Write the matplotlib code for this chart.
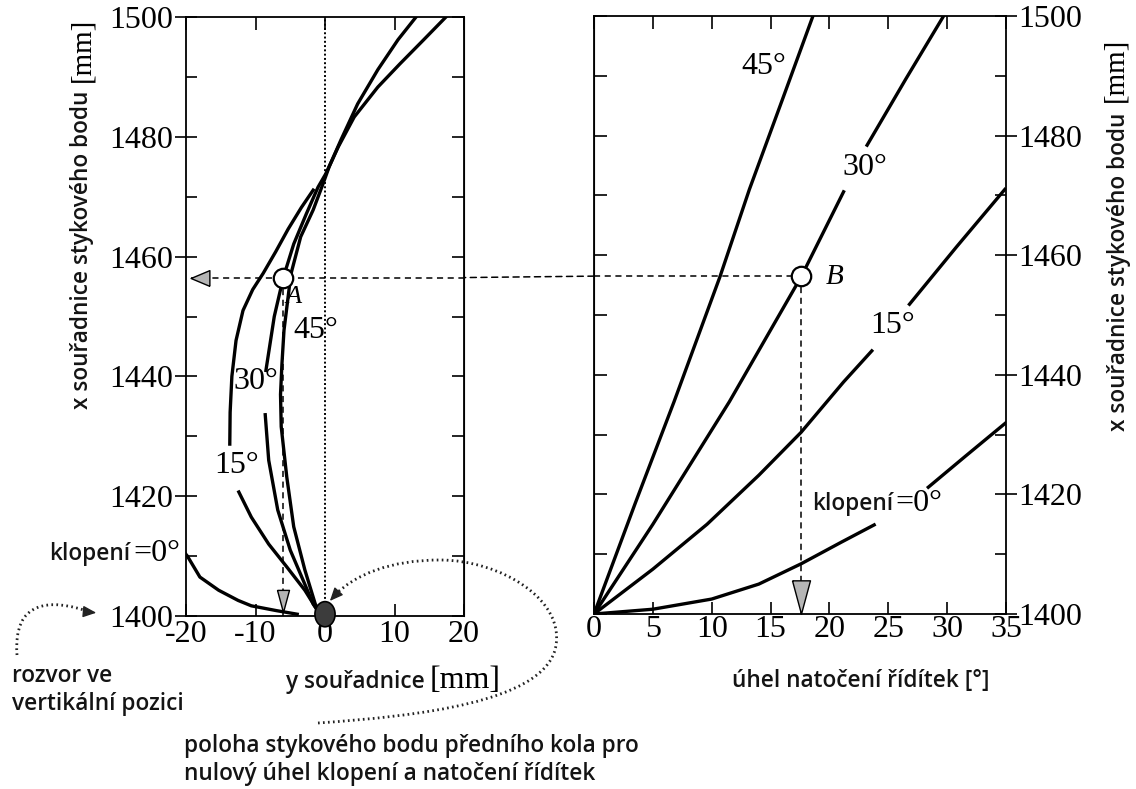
import numpy as np
import matplotlib
matplotlib.use('Agg')
from matplotlib import pyplot as plt
from matplotlib.patches import Ellipse, ConnectionPatch
from matplotlib.path import Path
from matplotlib.patches import PathPatch
import matplotlib.transforms as mtrans

W, H = 1136, 789
SERIF = ['Liberation Serif', 'DejaVu Serif']
SANS = ['Open Sans', 'DejaVu Sans']
TXT = '#141414'

# ---- data: right panel, steering angle [deg] vs x contact [mm]
r45_a = [0, 3.5, 6.8, 10.7, 13.2, 16.0, 18.6]
r45_x = [1400, 1418.5, 1435.5, 1456.4, 1471, 1486, 1500]
r30_a_lo = [0, 5, 11.5, 17.6, 21.2]
r30_x_lo = [1400, 1415, 1435.5, 1456.4, 1470.6]
r30_a_hi = [23.2, 26.5, 29.7]
r30_x_hi = [1478.4, 1489.5, 1500]
r15_a_lo = [0, 5, 9.6, 14, 17.6, 21.2, 23.6]
r15_x_lo = [1400, 1407.5, 1415, 1423.2, 1430.4, 1438.8, 1444]
r15_a_hi = [26.8, 30.8, 34.9]
r15_x_hi = [1451.8, 1461.4, 1471]
r0_a_lo = [0, 5, 10, 14, 17.6, 21, 23.8]
r0_x_lo = [1400, 1400.8, 1402.5, 1405, 1408.4, 1412, 1414.9]
r0_a_hi = [28.4, 31.5, 35]
r0_x_hi = [1421.2, 1426.3, 1432]

# ---- data: left panel, y coordinate [mm] vs x contact [mm]
l0_y = [-20.5, -19.8, -18, -15.3, -12.5, -10.6, -7, -4]
l0_x = [1411, 1410, 1406.5, 1404.3, 1402.6, 1401.7, 1400.9, 1400.3]
l15_y_lo = [-0.5, -1.4, -2.9, -5.5, -8.1, -10.6, -12.4]
l15_x_lo = [1400, 1401.5, 1404.3, 1408.2, 1412, 1416.5, 1420.7]
l15_y_hi = [-13.7, -13.65, -13.4, -12.8, -11.8, -10.4, -8.9, -7.1, -5.3, -3.4, -1.7]
l15_x_hi = [1428.7, 1434, 1440, 1446, 1451, 1454.5, 1457.2, 1460.8, 1464.6, 1468.2, 1471.1]
l30_y_lo = [-0.5, -1.7, -2.9, -5.0, -6.8, -8.1, -8.6]
l30_x_lo = [1400, 1402, 1405.3, 1411, 1417.7, 1426, 1433.6]
l30_y_hi = [-8.5, -7.3, -6.0, -4.5, -2.7, -1.0, 0.1, 1.9, 4.2, 7.6, 10.8, 14.2, 17.4]
l30_x_hi = [1441, 1450, 1456.5, 1462.1, 1467.1, 1471.6, 1473.8, 1478.3, 1483.3, 1488.3, 1492.2, 1496.2, 1500]
l45_y = [-0.5, -1.4, -2.9, -4.5, -5.5, -6.3, -6.4, -6.2, -5.9, -4.9, -3.5, -1.7, -0.3, 0.6, 2.3, 4.7, 7.6, 10.5, 13.1]
l45_x = [1400, 1402, 1407.7, 1414.9, 1423.2, 1431.6, 1437, 1442, 1447.7, 1457.1, 1463.3, 1467.8, 1472.1, 1475, 1479.5, 1485.5, 1491.2, 1496.2, 1500]

# points A and B
A_y, A_x = -6.0, 1456.5
B_a, B_x = 17.6, 1456.5

left_xticks = [-20, -10, 0, 10, 20]
right_xticks = [0, 5, 10, 15, 20, 25, 30, 35]
yticks_major = [1400, 1420, 1440, 1460, 1480, 1500]
yticks_minor = [1410, 1430, 1450, 1470, 1490]
yticks_all = list(range(1400, 1501, 10))

fig = plt.figure(figsize=(W / 100, H / 100), dpi=100)


def box(x0, y0, x1, y1):
    return [x0 / W, 1 - y1 / H, (x1 - x0) / W, (y1 - y0) / H]


ax1 = fig.add_axes(box(186, 17, 464, 616))
ax2 = fig.add_axes(box(594, 16, 1006, 614))

LW = 2.4
DASH = dict(color='k', ls=(0, (4, 3)), lw=1.1)
for ax in (ax1, ax2):
    for s in ax.spines.values():
        s.set_linewidth(1.3)
    ax.set_ylim(1400, 1500)

# ---------------- left panel
ax1.set_xlim(-20, 20)
ax1.axvline(0, color='k', ls=(0, (1, 1.2)), lw=1.4, zorder=1)
for yy, xx in [(l0_y, l0_x), (l15_y_lo, l15_x_lo), (l15_y_hi, l15_x_hi),
               (l30_y_lo, l30_x_lo), (l30_y_hi, l30_x_hi), (l45_y, l45_x)]:
    ax1.plot(yy, xx, color='k', lw=LW, solid_joinstyle='round')

ax1.set_xticks(left_xticks)
ax1.set_xticklabels(['-20', '-10', '0', '10', '20'])
ax1.set_yticks(yticks_major)
ax1.set_yticks(yticks_minor, minor=True)
ax1.tick_params(axis='x', direction='in', length=9, width=1.2, top=True, bottom=True, pad=3)
ax1.tick_params(axis='y', which='major', direction='inout', length=16, width=1.2, right=False, pad=1)
ax1.tick_params(axis='y', which='minor', direction='in', length=8, width=1.2, right=False)
sec1 = ax1.secondary_yaxis('right')
sec1.set_yticks(yticks_all)
sec1.set_yticklabels([])
sec1.tick_params(direction='in', length=9, width=1.2)

# A point + dashed lines
ax1.plot([A_y, A_y], [1400, A_x], zorder=2, **DASH)
ax1.plot([-19.3, 20], [A_x, A_x], zorder=2, **DASH)
ax1.plot([A_y], [A_x], 'o', ms=14, mfc='white', mec='k', mew=1.6, zorder=5)
ax1.add_patch(Ellipse((0, 1400.3), 2.9, 4.2, fc='#3c3c3c', ec='k', lw=1.2,
                      clip_on=False, zorder=6))

# ---------------- right panel
ax2.set_xlim(0, 35)
for aa, xx in [(r45_a, r45_x), (r30_a_lo, r30_x_lo), (r30_a_hi, r30_x_hi),
               (r15_a_lo, r15_x_lo), (r15_a_hi, r15_x_hi),
               (r0_a_lo, r0_x_lo), (r0_a_hi, r0_x_hi)]:
    ax2.plot(aa, xx, color='k', lw=LW, solid_joinstyle='round')

ax2.set_xticks(right_xticks)
ax2.yaxis.tick_right()
ax2.set_yticks(yticks_major)
ax2.set_yticks(yticks_minor, minor=True)
ax2.tick_params(axis='x', direction='in', length=9, width=1.2, top=True, bottom=True, pad=1)
ax2.tick_params(axis='y', which='major', direction='inout', length=16, width=1.2,
                left=False, right=True, pad=1)
ax2.tick_params(axis='y', which='minor', direction='in', length=8, width=1.2,
                left=False, right=True)
sec2 = ax2.secondary_yaxis('left')
sec2.set_yticks(yticks_all)
sec2.set_yticklabels([])
sec2.tick_params(direction='in', length=9, width=1.2)

ax2.plot([B_a, B_a], [1400, B_x], zorder=2, **DASH)
ax2.plot([0, B_a], [B_x, B_x], zorder=2, **DASH)
ax2.plot([B_a], [B_x], 'o', ms=14, mfc='white', mec='k', mew=1.6, zorder=5)

for ax in (ax1, ax2, sec1, sec2):
    for lab in ax.get_xticklabels() + ax.get_yticklabels():
        lab.set_family(SERIF)
        lab.set_fontsize(23)

# dashed line bridging the gap between the two panels
con = ConnectionPatch(xyA=(0, B_x), coordsA=ax2.transData,
                      xyB=(20, A_x), coordsB=ax1.transData, zorder=3, **DASH)
fig.add_artist(con)

# gray arrowheads
tri_down = [(-0.27, 0.5), (0.27, 0.5), (0, -0.5), (-0.27, 0.5)]
tri_left = [(0.5, -0.42), (0.5, 0.42), (-0.5, 0), (0.5, -0.42)]


def head(ax, x, y, verts, size, dx, dy):
    off = mtrans.ScaledTranslation(dx * size / 72, dy * size / 72, fig.dpi_scale_trans)
    ax.plot([x], [y], marker=verts, ms=size, mfc='#b5b5b5', mec='k', mew=1.0,
            transform=ax.transData + off, clip_on=False, zorder=7)


head(ax2, B_a, 1400, tri_down, 24, 0, 0.5)
head(ax1, A_y, 1400.6, tri_down, 16, 0, 0.5)
head(ax1, -19.3, A_x, tri_left, 13.5, 0.5, 0)

# curve labels
lab_kw = dict(family=SERIF, fontsize=23, ha='center', va='center', color='k')
ax1.text(-1.3, 1447.7, '45°', **lab_kw)
ax1.text(-9.9, 1439.1, '30°', **lab_kw)
ax1.text(-12.7, 1425.2, '15°', **lab_kw)
ax1.text(-4.6, 1453.3, 'A', family=SERIF, style='italic', fontsize=19, ha='center', va='center')
ax2.text(14.4, 1491.5, '45°', **lab_kw)
ax2.text(23.0, 1474.7, '30°', **lab_kw)
ax2.text(25.4, 1448.3, '15°', **lab_kw)
ax2.text(20.4, 1456.4, 'B', family=SERIF, style='italic', fontsize=21, ha='center', va='center')

sans_kw = dict(family=SANS, fontsize=16.3, fontweight='semibold', color=TXT)
ax1.text(-28.0, 1410.4, 'klopení', ha='right', va='center', clip_on=False, **sans_kw)
ax1.text(-27.6, 1410.4, '=0°', ha='left', va='center', family=SERIF, fontsize=23, clip_on=False)
ax2.text(25.4, 1418.4, 'klopení', ha='right', va='center', **sans_kw)
ax2.text(25.6, 1418.4, '=0°', ha='left', va='center', family=SERIF, fontsize=23)

# ---------------- overlay for annotations (pixel coords)
ov = fig.add_axes([0, 0, 1, 1])
ov.set_xlim(0, W)
ov.set_ylim(H, 0)
ov.axis('off')
ov.patch.set_alpha(0)

ov.text(82, 250, 'x souřadnice stykového bodu', rotation=90, ha='center', va='center', **sans_kw)
ov.text(82, 50, '[mm]', rotation=90, ha='center', va='center', family=SERIF, fontsize=21)
ov.text(1119, 272, 'x souřadnice stykového bodu', rotation=90, ha='center', va='center', **sans_kw)
ov.text(1115, 70, '[mm]', rotation=90, ha='center', va='center', family=SERIF, fontsize=21)
ov.text(355, 682, 'y souřadnice', ha='center', va='center', **sans_kw)
ov.text(465, 680, '[mm]', ha='center', va='center', family=SERIF, fontsize=23)
ov.text(861, 681, 'úhel natočení řídítek [°]', ha='center', va='center', **sans_kw)
ov.text(12, 690, 'rozvor ve\nvertikální pozici', ha='left', va='center', linespacing=1.25, **sans_kw)
ov.text(184, 760, 'poloha stykového bodu předního kola pro\nnulový úhel klopení a natočení řídítek',
        ha='left', va='center', linespacing=1.25, **sans_kw)

dot = dict(color='#222222', lw=2.0, ls=(0, (0.6, 1.2)), fill=False)
p1 = Path([(17, 655), (13, 600), (50, 598), (90, 612)],
          [Path.MOVETO, Path.CURVE4, Path.CURVE4, Path.CURVE4])
ov.add_patch(PathPatch(p1, **dot))
ov.annotate('', xy=(99, 613), xytext=(88, 612),
            arrowprops=dict(arrowstyle='-|>,head_length=0.8,head_width=0.35', color='#222222', lw=1))
p2 = Path([(318, 723), (420, 716), (540, 702), (555, 650),
           (568, 600), (500, 560), (440, 560),
           (390, 560), (355, 575), (336, 594)],
          [Path.MOVETO, Path.CURVE4, Path.CURVE4, Path.CURVE4,
           Path.CURVE4, Path.CURVE4, Path.CURVE4,
           Path.CURVE4, Path.CURVE4, Path.CURVE4])
ov.add_patch(PathPatch(p2, **dot))
ov.annotate('', xy=(328, 603), xytext=(338, 592),
            arrowprops=dict(arrowstyle='-|>,head_length=0.8,head_width=0.35', color='#222222', lw=1))

fig.savefig('out.png', dpi=100)
